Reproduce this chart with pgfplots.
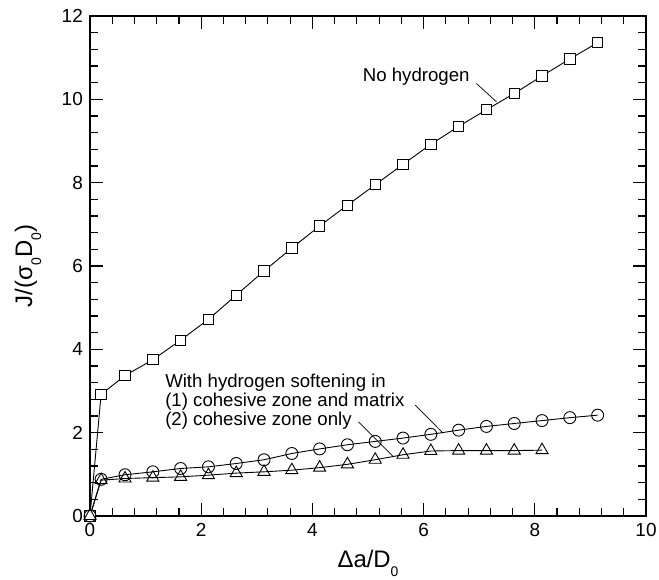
\documentclass[border=0pt]{standalone}
\usepackage{pgfplots}
\pgfplotsset{compat=1.18}
\usepackage{fontspec}
\setmainfont{Liberation Sans}
\newcommand{\lowsub}[1]{\raisebox{-9bp}{\fontsize{14}{14}\selectfont #1}}
\begin{document}
\begin{tikzpicture}
\begin{axis}[
 scale only axis, width=556bp, height=500bp,
 xmin=0, xmax=10, ymin=0, ymax=12,
 xtick={0,2,...,10}, ytick={0,2,...,12},
 minor tick num=4,
 tick align=inside,
 major tick length=12.7bp, minor tick length=8bp,
 every tick/.style={black, line width=1.1bp},
 axis line style={line width=1.6bp},
 /pgf/number format/assume math mode=true,
 ticklabel style={font=\fontsize{19}{22}\selectfont},
 xticklabel style={inner sep=0pt, anchor=north, yshift=-7bp},
 yticklabel style={inner sep=0pt, anchor=east, xshift=-7bp},
 xlabel={Δa/D\lowsub{0}},
 xlabel style={at={(axis description cs:0.5,-0.1026)}, anchor=base, inner sep=0pt, font=\fontsize{24}{28}\selectfont},
 ylabel={J/(σ\lowsub{0}D\lowsub{0})},
 ylabel style={at={(axis description cs:-0.1043,0.5)}, anchor=base, inner sep=0pt, font=\fontsize{24}{28}\selectfont},
 every axis plot/.append style={black, line width=0.9bp},
 clip=false,
]
\addplot[mark=square*, mark size=5.2bp, mark options={fill=white, line width=0.9bp}] coordinates {
(0,0) (0.2,2.92) (0.63,3.37) (1.13,3.75) (1.63,4.22) (2.13,4.72) (2.63,5.30) (3.13,5.88) (3.63,6.43) (4.13,6.96) (4.63,7.46) (5.13,7.95) (5.63,8.44) (6.13,8.92) (6.63,9.35) (7.13,9.75) (7.63,10.14) (8.13,10.56) (8.63,10.97) (9.13,11.36)};
\addplot[mark=o, mark size=6bp, mark options={line width=0.9bp}] coordinates {
(0,0) (0.2,0.88) (0.63,0.99) (1.13,1.06) (1.63,1.14) (2.13,1.18) (2.63,1.26) (3.13,1.35) (3.63,1.50) (4.13,1.61) (4.63,1.71) (5.13,1.79) (5.63,1.87) (6.13,1.96) (6.63,2.06) (7.13,2.15) (7.63,2.22) (8.13,2.29) (8.63,2.36) (9.13,2.42)};
\addplot[mark=triangle, mark size=7bp, mark options={line width=0.9bp}] coordinates {
(0,0) (0.2,0.86) (0.63,0.90) (1.13,0.92) (1.63,0.94) (2.13,0.98) (2.63,1.03) (3.13,1.06) (3.63,1.10) (4.13,1.16) (4.63,1.24) (5.13,1.35) (5.63,1.47) (6.13,1.56) (6.63,1.57) (7.13,1.57) (7.63,1.57) (8.13,1.58)};
\node[anchor=base east, inner sep=0pt, font=\fontsize{18.7}{22}\selectfont] at (axis cs:6.83,10.42) {No hydrogen};
\draw[line width=0.7bp] (axis cs:6.95,10.38) -- (axis cs:7.31,9.94);
\node[anchor=base west, inner sep=0pt, font=\fontsize{18.7}{22}\selectfont] at (axis cs:1.35,3.096) {With hydrogen softening in};
\node[anchor=base west, inner sep=0pt, font=\fontsize{18.7}{22}\selectfont] at (axis cs:1.35,2.633) {(1) cohesive zone and matrix};
\node[anchor=base west, inner sep=0pt, font=\fontsize{18.7}{22}\selectfont] at (axis cs:1.35,2.17) {(2) cohesive zone only};
\draw[line width=0.7bp] (axis cs:5.85,2.66) -- (axis cs:6.35,1.99);
\draw[line width=0.7bp] (axis cs:4.83,2.26) -- (axis cs:5.46,1.42);
\coordinate (ll) at (rel axis cs:0,0);
\coordinate (ur) at (rel axis cs:1,1);
\end{axis}
\pgfresetboundingbox
\path[use as bounding box] ([shift={(-90bp,-63.3bp)}]ll) rectangle ([shift={(13bp,16bp)}]ur);
\end{tikzpicture}
\end{document}
